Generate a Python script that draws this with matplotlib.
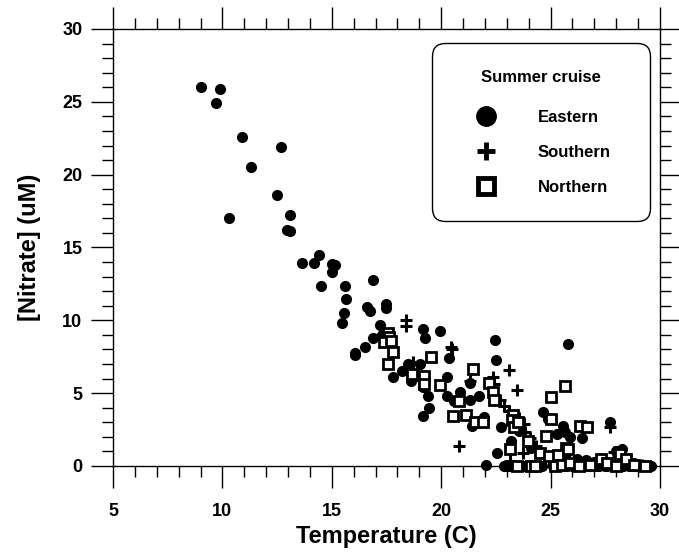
import matplotlib
matplotlib.use("Agg")
import matplotlib.pyplot as plt
from matplotlib.lines import Line2D
from matplotlib.ticker import MultipleLocator

plt.rcParams["font.family"] = ["Liberation Sans", "DejaVu Sans"]
plt.rcParams["font.weight"] = "bold"

# Eastern cruise: temperature (C), nitrate (uM)
east_t = [9.0, 9.9, 9.7, 10.9, 12.7, 11.3, 12.5, 10.3, 13.1, 12.95, 13.1,
          13.65, 14.2, 14.4, 15.0, 15.15, 15.0, 14.5, 15.6, 16.9, 15.65, 15.55,
          15.45, 16.6, 16.75, 17.5, 17.5, 17.2, 16.9, 16.5, 16.05, 16.05, 17.8,
          18.2, 18.5, 18.6, 19.15, 19.25, 19.95, 19.05, 19.15, 19.4, 19.45,
          19.15, 20.35, 20.25, 20.25, 20.6, 20.85, 21.3, 21.3, 21.75, 21.4,
          21.95, 22.45, 22.5, 22.05, 22.55, 22.75, 23.2, 23.3, 23.55, 24.0,
          24.1, 25.8, 24.65, 24.9, 25.55, 25.3, 25.65, 25.9, 26.45, 27.7, 28.25,
          28.0, 18.9, 17.3, 22.9, 23.0, 23.2, 23.4, 23.8, 24.2, 24.4, 24.6,
          25.1, 25.4, 25.6, 25.9, 26.1, 26.3, 26.5, 26.7, 26.9, 27.1, 27.3,
          27.5, 27.7, 27.9, 28.1, 28.3, 28.5, 28.7, 28.9, 29.1, 29.3, 29.5,
          29.6, 26.2, 26.6, 27.0, 28.4, 28.8, 29.2, 25.2, 25.7,
          22.85, 23.1, 23.3, 23.95, 24.1, 24.3, 24.5, 25.25, 25.5, 25.75,
          26.0, 26.4, 26.8, 27.2, 27.6, 28.0, 28.2, 28.6, 29.0, 29.4]
east_n = [26.0, 25.9, 24.9, 22.6, 21.9, 20.5, 18.6, 17.0, 17.25, 16.2, 16.1,
          13.95, 13.95, 14.5, 13.9, 13.8, 13.3, 12.35, 12.35, 12.75, 11.45, 10.5,
          9.85, 10.9, 10.65, 11.1, 10.85, 9.65, 8.8, 8.15, 7.75, 7.6, 6.1,
          6.5, 7.0, 5.85, 9.4, 8.8, 9.25, 7.0, 5.45, 4.8, 3.95,
          3.45, 7.4, 6.1, 4.8, 4.45, 5.05, 5.7, 4.55, 4.8, 2.75,
          3.35, 8.65, 7.25, 0.1, 0.9, 2.65, 1.75, 3.3, 2.4, 1.65,
          1.25, 8.4, 3.7, 3.25, 2.75, 2.2, 2.3, 2.0, 1.95, 3.0, 1.2,
          1.05, 6.2, 9.0, 0.0, 0.0, 0.0, 0.0, 0.0, 0.0, 0.0, 0.0,
          0.0, 0.1, 0.0, 0.2, 0.0, 0.1, 0.3, 0.0, 0.1, 0.0, 0.2,
          0.0, 0.1, 0.0, 0.2, 0.0, 0.1, 0.0, 0.0, 0.1, 0.0, 0.0,
          0.0, 0.5, 0.4, 0.3, 0.3, 0.2, 0.1, 0.6, 0.9,
          0.0, 0.0, 0.0, 0.0, 0.0, 0.0, 0.0, 0.0, 0.0, 0.0,
          0.0, 0.0, 0.0, 0.0, 0.0, 0.0, 0.0, 0.0, 0.0, 0.0]

# Southern cruise
south_t = [18.4, 18.4, 20.45, 20.5, 18.7, 20.8, 21.3, 22.35, 22.4, 23.1, 23.45,
           22.7, 22.85, 23.1, 23.55, 23.8, 23.85, 24.05, 23.75, 24.35, 24.95,
           27.7, 27.9, 28.1, 23.15, 25.5, 26.2, 27.0, 28.6, 29.2]
south_n = [10.0, 9.6, 8.15, 8.0, 7.15, 1.35, 5.85, 6.1, 5.6, 6.6, 5.2,
           4.5, 4.15, 3.75, 3.3, 2.85, 2.35, 1.95, 0.9, 1.35, 0.5,
           2.7, 0.95, 0.75, 0.35, 0.3, 0.2, 0.1, 0.2, 0.1]

# Northern cruise
north_t = [17.55, 17.6, 17.4, 17.7, 17.8, 17.55, 19.55, 18.65, 19.2, 19.2, 19.95,
           21.45, 20.8, 20.55, 21.15, 21.55, 21.9, 22.2, 22.35, 22.4, 23.3, 23.25,
           23.35, 23.5, 23.15, 24.8, 25.0, 25.0, 25.65, 25.7, 26.35, 26.65, 27.3,
           23.45, 25.2, 24.5, 23.95, 24.95, 25.35, 28.15, 28.45, 24.1, 24.3,
           25.5, 25.9, 26.3, 26.8, 27.6, 28.0, 28.8, 29.3, 25.8]
north_n = [9.15, 8.85, 8.5, 8.55, 7.85, 7.0, 7.45, 6.3, 6.15, 5.65, 5.55,
           6.65, 4.45, 3.45, 3.5, 3.0, 3.05, 5.7, 5.1, 4.5, 3.5, 3.15,
           2.7, 3.05, 1.2, 2.05, 4.75, 3.25, 5.5, 1.25, 2.75, 2.65, 0.45,
           0.0, 0.0, 0.9, 1.7, 0.7, 0.75, 0.85, 0.5, 0.0, 0.0,
           0.1, 0.2, 0.0, 0.1, 0.2, 0.0, 0.1, 0.0, 1.2]

fig = plt.figure(figsize=(6.79, 5.52), dpi=100)
ax = fig.add_axes([0.1664, 0.1558, 0.8056, 0.7917])

ax.plot(east_t, east_n, "o", color="black", markersize=7, zorder=3, clip_on=False)
ax.plot(south_t, south_n, "+", color="black", markersize=9, markeredgewidth=2.2,
        zorder=3, clip_on=False)
ax.plot(north_t, north_n, "s", markerfacecolor="white", markeredgecolor="black",
        markersize=6.5, markeredgewidth=2.0, zorder=3, clip_on=False)

ax.set_xlim(5, 30)
ax.set_ylim(0, 30)
ax.xaxis.set_major_locator(MultipleLocator(5))
ax.xaxis.set_minor_locator(MultipleLocator(1))
ax.yaxis.set_major_locator(MultipleLocator(5))
ax.yaxis.set_minor_locator(MultipleLocator(1))
ax.tick_params(which="both", direction="out", top=True, right=True, width=1.0,
               labelsize=13)
ax.tick_params(which="major", length=16)
ax.tick_params(which="minor", length=8)
ax.tick_params(axis="x", pad=11)
ax.tick_params(axis="y", pad=6)
for s in ax.spines.values():
    s.set_linewidth(1.0)

ax.set_xlabel("Temperature (C)", fontsize=17, fontweight="bold", labelpad=3)
ax.set_ylabel("[Nitrate] (uM)", fontsize=17, fontweight="bold", labelpad=15)

handles = [
    Line2D([], [], linestyle="none", marker="o", color="black", markersize=14),
    Line2D([], [], linestyle="none", marker="+", color="black", markersize=13,
           markeredgewidth=3.5),
    Line2D([], [], linestyle="none", marker="s", markerfacecolor="white",
           markeredgecolor="black", markersize=12, markeredgewidth=3.5),
]
leg = ax.legend(handles, ["Eastern", "Southern", "Northern"], title="Summer cruise",
                loc="upper left", bbox_to_anchor=(0.583, 0.567, 0.399, 0.401),
                mode="expand", fontsize=12,
                title_fontproperties={"size": 12, "weight": "bold"},
                frameon=True, fancybox=True, edgecolor="black", framealpha=1,
                borderpad=1.6, labelspacing=1.2, handletextpad=1.45,
                borderaxespad=0, handlelength=3.3)
leg.get_frame().set_linewidth(1.0)
leg.get_frame().set_boxstyle("round", pad=0, rounding_size=0.8)
leg._legend_box.sep = 18

fig.savefig("out.png", dpi=100)
